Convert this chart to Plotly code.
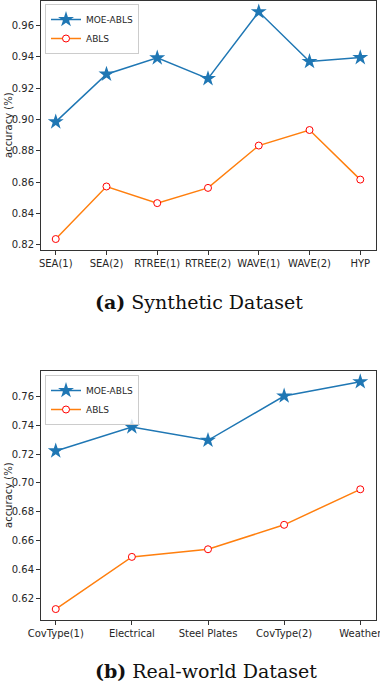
import plotly.graph_objects as go

# Synthetic datasets
syn_categories = ["SEA(1)", "SEA(2)", "RTREE(1)", "RTREE(2)", "WAVE(1)", "WAVE(2)", "HYP"]
syn_moe_abls = [0.8985, 0.9289, 0.9393, 0.9261, 0.9687, 0.9370, 0.9395]
syn_abls = [0.8238, 0.8573, 0.8467, 0.8564, 0.8834, 0.8933, 0.8617]
syn_yticks = [0.82, 0.84, 0.86, 0.88, 0.90, 0.92, 0.94, 0.96]

# Real-world datasets
real_categories = ["CovType(1)", "Electrical", "Steel Plates", "CovType(2)", "Weather"]
real_moe_abls = [0.7223, 0.7390, 0.7297, 0.7605, 0.7704]
real_abls = [0.6123, 0.6486, 0.6539, 0.6709, 0.6956]
real_yticks = [0.62, 0.64, 0.66, 0.68, 0.70, 0.72, 0.74, 0.76]

W, H = 380, 685
BLUE = "#1f77b4"
ORANGE = "#ff7f0e"
TICKFONT = dict(family="DejaVu Sans", size=10, color="#262626")

def py(p):
    return 1 - p / H

def px(p):
    return p / W

fig = go.Figure()

def add_series(xax, yax, cats, moe, abls, legend):
    fig.add_trace(go.Scatter(
        x=cats, y=moe, name="MOE-ABLS", mode="lines+markers",
        xaxis=xax, yaxis=yax, legend=legend,
        line=dict(color=BLUE, width=1.5),
        marker=dict(symbol="star", size=12, color=BLUE, line=dict(width=0)),
    ))
    fig.add_trace(go.Scatter(
        x=cats, y=abls, name="ABLS", mode="lines+markers",
        xaxis=xax, yaxis=yax, legend=legend,
        line=dict(color=ORANGE, width=1.5),
        marker=dict(symbol="circle", size=7, color="white", line=dict(color="#ff0000", width=1)),
    ))

add_series("x", "y", syn_categories, syn_moe_abls, syn_abls, "legend")
add_series("x2", "y2", real_categories, real_moe_abls, real_abls, "legend2")

axis_common = dict(
    showline=True, mirror=True, linecolor="#333333", linewidth=1,
    ticks="outside", ticklen=3.5, tickwidth=0.8, tickcolor="#333333",
    showgrid=False, zeroline=False, tickfont=TICKFONT, automargin=False,
)

legend_common = dict(
    xanchor="left", yanchor="top",
    bgcolor="rgba(255,255,255,0.8)", bordercolor="#cccccc", borderwidth=1,
    font=dict(family="DejaVu Sans", size=9, color="#262626"),
    tracegroupgap=0, itemwidth=30,
)

fig.update_layout(
    width=W, height=H,
    margin=dict(l=0, r=0, t=0, b=0, autoexpand=False),
    plot_bgcolor="white", paper_bgcolor="white",
    xaxis=dict(domain=[px(40.5), px(375.5)], anchor="y", type="category",
               range=[-0.3, 6.3], tickangle=0, **axis_common),
    yaxis=dict(domain=[py(250), py(0.5)], anchor="x", range=[0.8168, 0.9759],
               tickvals=syn_yticks, ticktext=[f"{v:.2f}" for v in syn_yticks], **axis_common),
    xaxis2=dict(domain=[px(40.5), px(375.5)], anchor="y2", type="category",
                range=[-0.2, 4.2], tickangle=0, **axis_common),
    yaxis2=dict(domain=[py(620), py(370.7)], anchor="x2", range=[0.6047, 0.7781],
                tickvals=real_yticks, ticktext=[f"{v:.2f}" for v in real_yticks], **axis_common),
    legend=dict(x=px(45), y=py(4), **legend_common),
    legend2=dict(x=px(45), y=py(375), **legend_common),
    showlegend=True,
)

annos = [
    dict(text="accuracy (%)", x=px(8), y=py(125), textangle=-90),
    dict(text="accuracy (%)", x=px(8), y=py(495), textangle=-90),
]
for a in annos:
    fig.add_annotation(xref="paper", yref="paper", showarrow=False,
                       font=dict(family="DejaVu Sans", size=10, color="#262626"),
                       xanchor="center", yanchor="middle", **a)

fig.add_annotation(text="<b>(a)</b> Synthetic Dataset", xref="paper", yref="paper",
                   x=px(199), y=py(302), showarrow=False, xanchor="center", yanchor="middle",
                   font=dict(family="DejaVu Serif", size=19, color="#111111"))
fig.add_annotation(text="<b>(b)</b> Real-world Dataset", xref="paper", yref="paper",
                   x=px(206), y=py(671), showarrow=False, xanchor="center", yanchor="middle",
                   font=dict(family="DejaVu Serif", size=19, color="#111111"))

fig.write_html("out.html", config={"displayModeBar": False},
               post_script="document.body.style.margin='0';document.body.style.padding='0';document.body.style.overflow='hidden';")
